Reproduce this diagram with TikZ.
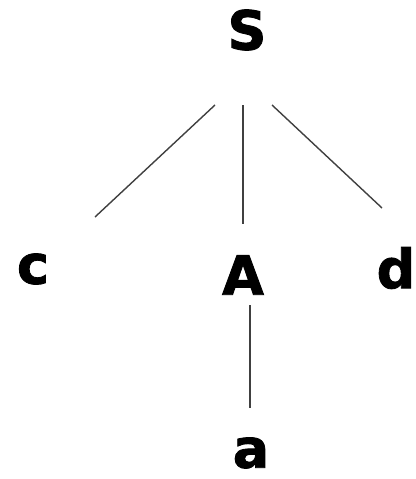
\documentclass[tikz,border=0pt]{standalone}
\usepackage{fontspec}
\setmainfont{DejaVu Sans}
\newfontfamily\heavyfont[FakeBold=1.6]{DejaVu Sans Bold}
\begin{document}
\begin{tikzpicture}[x=1pt,y=-1pt,
  sym/.style={inner sep=0pt,font=\heavyfont\fontsize{54}{54}\selectfont},
  edge/.style={draw=black!75,line width=1.4pt}]
\useasboundingbox (0,0) rectangle (415,479);
\node[sym] (S) at (247,30) {S};
\node[sym] (c) at (33,269) {c};
\node[sym] (A) at (243,275) {A};
\node[sym] (d) at (396,268) {d};
\node[sym] (a) at (251,453) {a};
\draw[edge] ([xshift=-32pt,yshift=-75pt]S.center) -- ([xshift=62pt,yshift=52pt]c.center);
\draw[edge] ([xshift=-4pt,yshift=-75pt]S.center) -- ([xshift=0pt,yshift=51pt]A.center);
\draw[edge] ([xshift=25pt,yshift=-75pt]S.center) -- ([xshift=-14pt,yshift=60pt]d.center);
\draw[edge] ([xshift=7pt,yshift=-30pt]A.center) -- ([xshift=-1pt,yshift=45pt]a.center);
\end{tikzpicture}
\end{document}
